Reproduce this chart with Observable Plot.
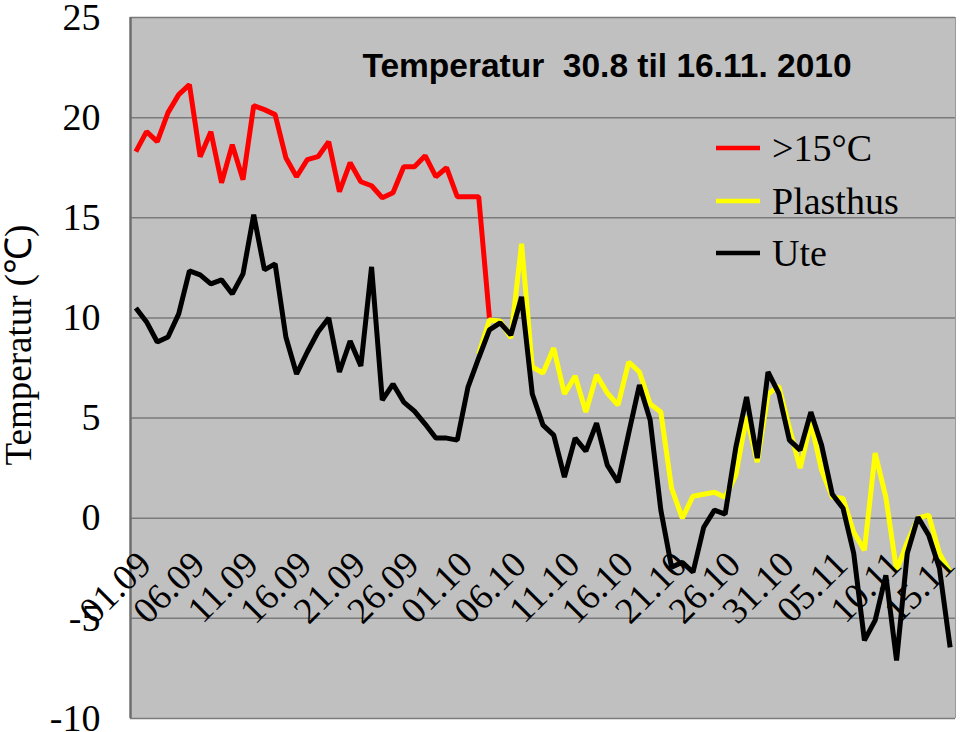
<!DOCTYPE html>
<html><head><meta charset="utf-8">
<script src="https://cdn.jsdelivr.net/npm/d3@7"></script>
<script src="https://cdn.jsdelivr.net/npm/@observablehq/plot@0.6"></script>
<style>body{margin:0;background:#fff} svg{display:block}</style>
</head><body><div id="chart"></div>
<script>
// 77 daily categories, 01.09 .. 16.11 2010
const days = d3.timeDay.range(new Date(2010, 8, 1), new Date(2010, 10, 17)).map(d3.timeFormat("%d.%m"));

// >15°C (red), from 01.09
const red = [18.3, 19.3, 18.8, 20.25, 21.15, 21.65, 18.05, 19.3, 16.75, 18.65,
  16.9, 20.6, 20.4, 20.15, 18.0, 17.05, 17.9, 18.05, 18.8, 16.3,
  17.75, 16.8, 16.6, 16.0, 16.25, 17.55, 17.55, 18.1, 17.05, 17.5,
  16.05, 16.05, 16.05, 10.0];
const redStart = 0;

// Plasthus (yellow), from 02.10 (index 32)
const plasthus = [8.2, 9.9, 9.85, 9.0, 13.7, 7.55, 7.25, 8.5, 6.2, 7.1,
  5.3, 7.15, 6.25, 5.65, 7.8, 7.3, 5.7, 5.3, 1.5, 0.0,
  1.1, 1.2, 1.3, 1.05, 2.15, 5.1, 2.8, 6.2, 6.6, 4.5,
  2.5, 4.8, 2.4, 1.05, 1.0, -0.7, -1.6, 3.25, 1.05, -2.6,
  -1.2, 0.0, 0.15, -1.75, -2.7];
const plasthusStart = 32;

// Ute (black), from 01.09
const ute = [10.5, 9.8, 8.8, 9.05, 10.2, 12.35, 12.15, 11.7, 11.9, 11.2,
  12.2, 15.15, 12.4, 12.7, 9.05, 7.2, 8.3, 9.3, 10.0, 7.3,
  8.85, 7.6, 12.55, 5.9, 6.7, 5.8, 5.35, 4.7, 4.0, 4.0,
  3.9, 6.55, 8.0, 9.4, 9.75, 9.15, 11.05, 6.2, 4.65, 4.15,
  2.05, 4.0, 3.35, 4.75, 2.65, 1.8, 4.25, 6.65, 4.9, 0.4,
  -2.45, -2.2, -2.7, -0.45, 0.4, 0.2, 3.55, 6.05, 3.0, 7.3,
  6.25, 3.9, 3.4, 5.3, 3.65, 1.2, 0.5, -1.75, -6.1, -5.1,
  -2.85, -7.1, -1.75, 0.05, -0.85, -2.5, -6.45];

const yTicks = [-10, -5, 0, 5, 10, 15, 20, 25];
const xTickLabels = ["01.09","06.09","11.09","16.09","21.09","26.09","01.10","06.10",
  "11.10","16.10","21.10","26.10","31.10","05.11","10.11","15.11"];

const seriesNames = [">15°C", "Plasthus", "Ute"];
const seriesColors = ["#ff0000", "#ffff00", "#000000"];

const redRows = red.map((v, k) => ({i: redStart + k, v}));
const plRows = plasthus.map((v, k) => ({i: plasthusStart + k, v}));
const uteRows = ute.map((v, i) => ({i, v}));
const tickRows = xTickLabels.map(label => ({i: days.indexOf(label), label}));

const serif = "'Liberation Serif', 'Times New Roman', serif";
const lineOpts = {x: "i", y: "v", strokeWidth: 5, strokeLinejoin: "miter", strokeLinecap: "butt"};

const chart = Plot.plot({
  width: 960, height: 732,
  marginLeft: 130, marginRight: 5, marginTop: 17, marginBottom: 14,
  style: {fontFamily: serif, background: "#fff", color: "#000"},
  x: {type: "linear", domain: [-0.5, days.length - 0.5], axis: null},
  y: {domain: [-10, 25], axis: null},
  marks: [
    Plot.frame({fill: "#c0c0c0"}),
    Plot.ruleY(yTicks, {stroke: "#7a7a7a", strokeWidth: 1.5}),
    Plot.line(redRows, {...lineOpts, stroke: seriesColors[0]}),
    Plot.line(plRows, {...lineOpts, stroke: seriesColors[1]}),
    Plot.line(uteRows, {...lineOpts, stroke: seriesColors[2]}),
    Plot.ruleX([-0.5], {stroke: "#6e6e6e", strokeWidth: 2.5}),
    Plot.ruleX([days.length - 0.5], {stroke: "#9a9a9a", strokeWidth: 1}),
    Plot.axisY(yTicks, {tickSize: 0, tickPadding: 30, fontSize: 38, fontFamily: serif,
      tickFormat: d => String(d), label: null}),
    Plot.text(tickRows, {x: "i", y: () => 0, text: "label", rotate: -45, textAnchor: "end",
      lineAnchor: "middle", dx: 9, dy: 40, fontSize: 37, fontFamily: serif, fill: "#000"})
  ]
});

const svg = d3.select(chart);
svg.append("text")
  .attr("x", 607).attr("y", 77)
  .attr("text-anchor", "middle")
  .attr("font-family", "'Liberation Sans', Arial, sans-serif")
  .attr("font-weight", "bold").attr("font-size", 33.5)
  .attr("fill", "#000")
  .attr("xml:space", "preserve")
  .text("Temperatur  30.8 til 16.11. 2010");

svg.append("text")
  .attr("transform", "translate(31,345) rotate(-90)")
  .attr("text-anchor", "middle")
  .attr("font-family", serif).attr("font-size", 37)
  .attr("fill", "#000")
  .text("Temperatur (℃)");

const legendY = [148, 201, 253];
seriesNames.forEach((name, k) => {
  svg.append("line").attr("x1", 716).attr("x2", 760)
    .attr("y1", legendY[k]).attr("y2", legendY[k])
    .attr("stroke", seriesColors[k]).attr("stroke-width", 4.5);
  svg.append("text").attr("x", 772).attr("y", legendY[k] + 13)
    .attr("text-anchor", "start")
    .attr("font-family", serif).attr("font-size", 38).attr("fill", "#000")
    .text(name);
});

document.getElementById("chart").appendChild(chart);
</script>
</body></html>
